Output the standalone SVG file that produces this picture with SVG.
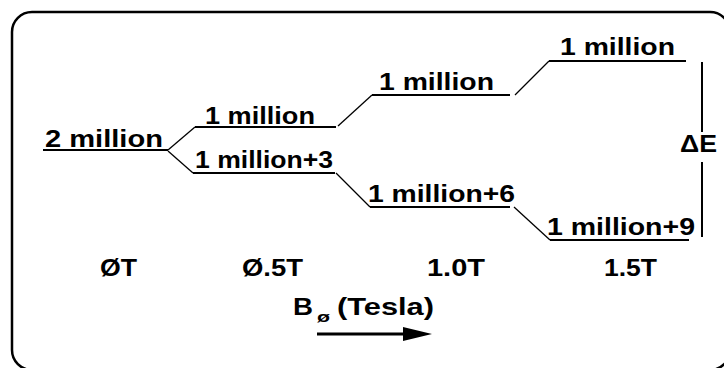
<svg xmlns="http://www.w3.org/2000/svg" width="724" height="368" viewBox="0 0 724 368">
<defs>
<style>
.t{font-family:"Liberation Sans",Arial,sans-serif;font-weight:bold;font-size:24px;fill:#000;}
.s{font-family:"Liberation Sans",Arial,sans-serif;font-weight:bold;fill:#000;}
.lvl{stroke:#000;stroke-width:2;fill:none;}
.con{stroke:#000;stroke-width:1.3;fill:none;}
</style>
</defs>
<rect x="0" y="0" width="724" height="368" fill="#fff"/>
<rect id="frame" x="12" y="12" width="718" height="358" rx="20" ry="20" fill="none" stroke="#000" stroke-width="2.5"/>

<g id="level-0T">
<text class="t" x="45" y="147" textLength="118" lengthAdjust="spacingAndGlyphs">2 million</text>
<line class="lvl" x1="43" y1="150" x2="168" y2="150"/>
</g>
<g id="level-05T-up">
<text class="t" x="205" y="124" textLength="110" lengthAdjust="spacingAndGlyphs">1 million</text>
<line class="lvl" x1="195" y1="127" x2="336" y2="127"/>
</g>
<g id="level-05T-down">
<text class="t" x="195" y="168" textLength="138" lengthAdjust="spacingAndGlyphs">1 million+3</text>
<line class="lvl" x1="193" y1="173" x2="335" y2="173"/>
</g>
<g id="level-10T-up">
<text class="t" x="379" y="90" textLength="115" lengthAdjust="spacingAndGlyphs">1 million</text>
<line class="lvl" x1="372" y1="95" x2="510" y2="95"/>
</g>
<g id="level-10T-down">
<text class="t" x="368" y="202" textLength="147" lengthAdjust="spacingAndGlyphs">1 million+6</text>
<line class="lvl" x1="370" y1="207" x2="510" y2="207"/>
</g>
<g id="level-15T-up">
<text class="t" x="560" y="55" textLength="115" lengthAdjust="spacingAndGlyphs">1 million</text>
<line class="lvl" x1="549" y1="61" x2="686" y2="61"/>
</g>
<g id="level-15T-down">
<text class="t" x="547" y="235" textLength="148" lengthAdjust="spacingAndGlyphs">1 million+9</text>
<line class="lvl" x1="550" y1="240" x2="689" y2="240"/>
</g>

<g id="connectors">
<line class="con" x1="168" y1="150" x2="195" y2="127"/>
<line class="con" x1="168" y1="151" x2="193" y2="173"/>
<line class="con" x1="338" y1="126" x2="372" y2="95"/>
<line class="con" x1="336" y1="173" x2="370" y2="207"/>
<line class="con" x1="515" y1="95" x2="549" y2="61"/>
<line class="con" x1="514" y1="207" x2="550" y2="240"/>
</g>

<g id="deltaE">
<line class="lvl" x1="702" y1="62" x2="702" y2="132"/>
<text class="t" x="680" y="152" textLength="37" lengthAdjust="spacingAndGlyphs">ΔE</text>
<line class="lvl" x1="702" y1="162" x2="702" y2="237"/>
</g>

<g id="axis-labels">
<text class="t" x="100" y="276" textLength="37" lengthAdjust="spacingAndGlyphs">ØT</text>
<text class="t" x="242" y="276" textLength="61" lengthAdjust="spacingAndGlyphs">Ø.5T</text>
<text class="t" x="427" y="276" textLength="58" lengthAdjust="spacingAndGlyphs">1.0T</text>
<text class="t" x="604" y="276" textLength="53" lengthAdjust="spacingAndGlyphs">1.5T</text>
</g>

<g id="axis-title">
<text class="t" x="293" y="315" textLength="20" lengthAdjust="spacingAndGlyphs">B</text>
<text class="s" x="317" y="322" font-size="15" textLength="13" lengthAdjust="spacingAndGlyphs">ø</text>
<text class="t" x="337" y="315" textLength="97" lengthAdjust="spacingAndGlyphs">(Tesla)</text>
<line x1="317" y1="334" x2="410" y2="334" stroke="#000" stroke-width="3"/>
<polygon points="403,327 432,334 403,341" fill="#000"/>
</g>
</svg>
